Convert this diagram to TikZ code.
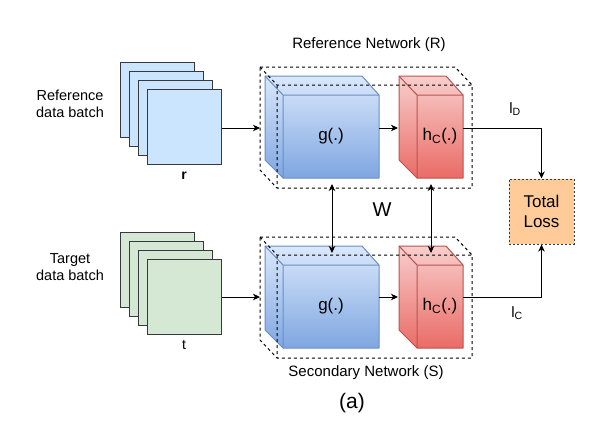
\documentclass[tikz,border=0pt]{standalone}
\usepackage{fontspec}
\setmainfont{Liberation Sans}
\usetikzlibrary{arrows.meta}
\definecolor{sheetblue}{HTML}{CCE5FF}
\definecolor{sheetgreen}{HTML}{D5E8D4}
\definecolor{sheetline}{HTML}{36393D}
\definecolor{gtop}{HTML}{DAE8FC}
\definecolor{gbot}{HTML}{7EA6E0}
\definecolor{gline}{HTML}{6C8EBF}
\definecolor{htop}{HTML}{F8CECC}
\definecolor{hbot}{HTML}{EA6B66}
\definecolor{hline}{HTML}{B85450}
\definecolor{lossfill}{HTML}{FFCC99}
\tikzset{
  sheetbox/.style={draw=sheetline, line width=1pt, minimum width=74pt, minimum height=75pt, inner sep=0pt},
  conn/.style={line width=1pt, -{Stealth[length=7pt,width=6.5pt,inset=2pt]}},
  biconn/.style={line width=1pt, {Stealth[length=7pt,width=6.5pt,inset=2pt]}-{Stealth[length=7pt,width=6.5pt,inset=2pt]}},
  plainconn/.style={line width=1pt},
  netline/.style={line width=1pt, dash pattern=on 3pt off 3pt},
  face/.style={inner sep=0pt, font=\fontsize{17}{20}\selectfont},
  lbl/.style={inner sep=0pt, align=center, font=\fontsize{14.5}{17}\selectfont},
  title/.style={inner sep=0pt, font=\fontsize{15}{18}\selectfont},
  lossbox/.style={draw=sheetline, line width=1pt, dash pattern=on 2pt off 2pt, fill=lossfill,
     minimum width=65pt, minimum height=65pt, inner sep=0pt, align=center, font=\fontsize{17}{20}\selectfont}
}
% cube: #1 x1, #2 y1, #3 x2, #4 y2 (front face), #5 top colour, #6 bottom colour, #7 line colour
\newcommand\mycube[7]{%
  \path[top color=#5, bottom color=#6] ({#1-18},{#2-19}) -- ({#3-17},{#2-19}) -- (#3,#2) -- (#3,#4) -- (#1,#4) -- ({#1-18},{#4-18}) -- cycle;
  \draw[#7, line width=1pt, line join=round] ({#1-18},{#2-19}) -- ({#3-17},{#2-19}) -- (#3,#2) -- (#3,#4) -- (#1,#4) -- ({#1-18},{#4-18}) -- cycle;
  \draw[#7, line width=1pt] ({#1-18},{#2-19}) -- (#1,#2) -- (#3,#2) (#1,#2) -- (#1,#4);
}
% dashed network box: #1 y offset
\newcommand\mynet[1]{%
  \draw[netline] (260,{67+#1}) -- (455,{67+#1}) -- (472,{85+#1}) -- (472,{188+#1}) -- (277,{188+#1}) -- (260,{170+#1}) -- cycle;
  \draw[netline] (260,{67+#1}) -- (277,{85+#1}) -- (472,{85+#1}) (277,{85+#1}) -- (277,{188+#1});
}
\begin{document}
\begin{tikzpicture}[x=1pt,y=-1pt]
\useasboundingbox (0,0) rectangle (611,445);

% input stacks
\foreach \k in {0,1,2,3}{
  \node[sheetbox, fill=sheetblue] (sR\k) at ({157+9.33*\k},{99.5+9.33*\k}) {};
}
\foreach \k in {0,1,2,3}{
  \node[sheetbox, fill=sheetgreen] (sS\k) at ({157+9.33*\k},{269.5+9.33*\k}) {};
}
\node[lbl, font=\fontsize{14}{17}\selectfont\bfseries] (rlab) at (184,176) {r};
\node[lbl, font=\fontsize{14}{17}\selectfont] (tlab) at (184,345) {t};
\node[lbl] (refdata) at (70,103.5) {Reference\\data batch};
\node[lbl] (tardata) at (70,267.5) {Target\\data batch};

% cubes
\mycube{283}{95}{379}{178}{gtop}{gbot}{gline}
\mycube{417}{95}{463}{178}{htop}{hbot}{hline}
\mycube{283}{265}{379}{348}{gtop}{gbot}{gline}
\mycube{417}{265}{463}{348}{htop}{hbot}{hline}
\node[face] (gR) at (331,136.5) {g(.)};
\node[face] (hR) at (440,136.5) {h\textsubscript{C}(.)};
\node[face] (gS) at (331,306.5) {g(.)};
\node[face] (hS) at (440,306.5) {h\textsubscript{C}(.)};

% network boxes
\mynet{0}
\mynet{170}
\node[title] (netRlab) at (369,45) {Reference Network (R)};
\node[title] (netSlab) at (366,373) {Secondary Network (S)};
\node[inner sep=0pt, font=\fontsize{21}{24}\selectfont] (cap) at (352,403) {(a)};
\node[inner sep=0pt, font=\fontsize{20}{24}\selectfont] (W) at (382,210) {W};

% loss
\node[lossbox] (loss) at (541.5,211.5) {Total\\Loss};
\node[title] (lD) at (515,109) {l\textsubscript{D}};
\node[title] (lC) at (517,313) {l\textsubscript{C}};

% coordinates
\coordinate (rowR) at (0,128);
\coordinate (rowS) at (0,297);
\coordinate (inR) at (260,128);
\coordinate (inS) at (260,297);
\coordinate (hRin) at (398,128);
\coordinate (hSin) at (398,297);
\coordinate (hRout) at (463,128);
\coordinate (hSout) at (463,297);
\coordinate (gRout) at (379,128);
\coordinate (gSout) at (379,297);
\coordinate (vg1) at (332,184);
\coordinate (vg2) at (332,253);
\coordinate (vh1) at (431,184);
\coordinate (vh2) at (431,253);

% connectors
\draw[conn] (sR3.east |- rowR) -- (inR);
\draw[conn] (sS3.east |- rowS) -- (inS);
\draw[conn] (gRout) -- (hRin);
\draw[conn] (gSout) -- (hSin);
\draw[conn] (hRout) -| (loss.north);
\draw[conn] (hSout) -| (loss.south);
\draw[biconn] (vg1) -- (vg2);
\draw[biconn] (vh1) -- (vh2);
\end{tikzpicture}
\end{document}
